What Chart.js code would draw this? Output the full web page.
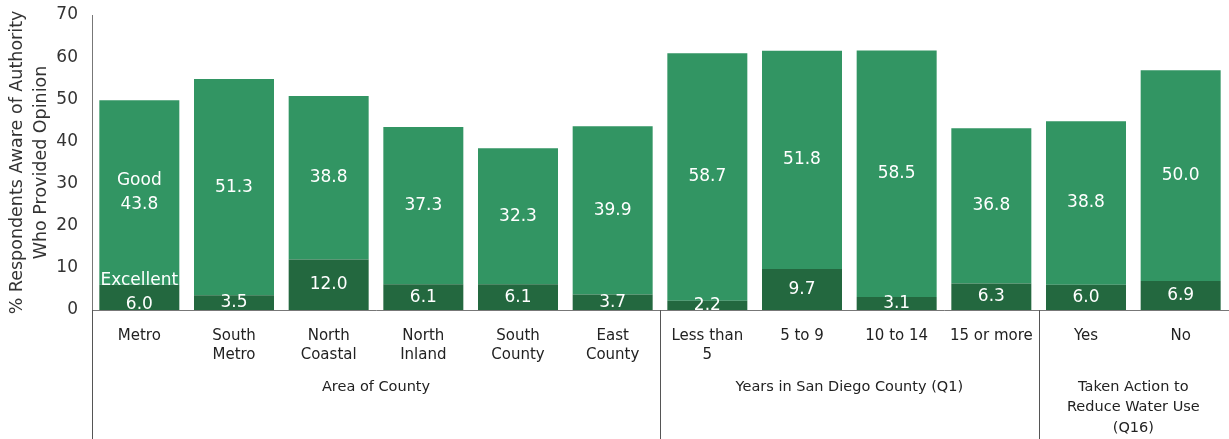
<!DOCTYPE html>
<html>
<head>
<meta charset="utf-8">
<script src="https://cdn.jsdelivr.net/npm/chart.js@4"></script>
<style>
  html, body { margin: 0; padding: 0; background: #fff; }
  #wrap { width: 1229px; height: 439px; }
</style>
</head>
<body>
<div id="wrap"><canvas id="chart"></canvas></div>
<script>
// categories (multi-line tick labels)
const categories = [
    ['Metro'], ['South', 'Metro'], ['North', 'Coastal'], ['North', 'Inland'],
    ['South', 'County'], ['East', 'County'], ['Less than', '5'], ['5 to 9'],
    ['10 to 14'], ['15 or more'], ['Yes'], ['No']
];

// series values
const excellent = [6.0, 3.5, 12.0, 6.1, 6.1, 3.7, 2.2, 9.7, 3.1, 6.3, 6.0, 6.9];
const good = [43.8, 51.3, 38.8, 37.3, 32.3, 39.9, 58.7, 51.8, 58.5, 36.8, 38.8, 50.0];

// groups below the axis: [first index, last index, label lines]
const groups = [
    [0, 5, ['Area of County']],
    [6, 9, ['Years in San Diego County (Q1)']],
    [10, 11, ['Taken Action to', 'Reduce Water Use', '(Q16)']]
];

const yTicks = [0, 10, 20, 30, 40, 50, 60, 70];

const FONT = "'DejaVu Sans', sans-serif";

// white value labels centered in each segment, clipped to the plot
const segmentLabels = {
    id: 'segmentLabels',
    afterDatasetsDraw(chart) {
        const ctx = chart.ctx;
        const area = chart.chartArea;
        ctx.save();
        ctx.beginPath();
        ctx.rect(area.left, area.top, area.right - area.left, area.bottom - area.top);
        ctx.clip();
        ctx.fillStyle = '#fff';
        ctx.font = '17px ' + FONT;
        ctx.textAlign = 'center';
        ctx.textBaseline = 'middle';
        chart.data.datasets.forEach((ds, di) => {
            chart.getDatasetMeta(di).data.forEach((bar, i) => {
                const cy = (bar.y + bar.base) / 2;
                const txt = ds.data[i].toFixed(1);
                if (i === 0) {
                    const off = di === 0 ? -5 : 0;
                    ctx.fillText(ds.label, bar.x, cy - 12 + off);
                    ctx.fillText(txt, bar.x, cy + 12 + off);
                } else {
                    ctx.fillText(txt, bar.x, cy);
                }
            });
        });
        ctx.restore();
    }
};

// group labels and separator lines under the x axis
const groupAxis = {
    id: 'groupAxis',
    afterDraw(chart) {
        const ctx = chart.ctx;
        const x = chart.scales.x;
        const area = chart.chartArea;
        const step = x.getPixelForValue(1) - x.getPixelForValue(0);
        ctx.save();
        ctx.strokeStyle = '#555';
        ctx.lineWidth = 1;
        ctx.fillStyle = '#222';
        ctx.font = '14.5px ' + FONT;
        ctx.textAlign = 'center';
        ctx.textBaseline = 'middle';
        groups.forEach(([a, b, lines], gi) => {
            const left = x.getPixelForValue(a) - step / 2;
            const right = x.getPixelForValue(b) + step / 2;
            if (gi > 0) {
                const px = Math.round(left) + 0.5;
                ctx.beginPath();
                ctx.moveTo(px, area.bottom);
                ctx.lineTo(px, chart.height);
                ctx.stroke();
            }
            lines.forEach((ln, li) => {
                ctx.fillText(ln, (left + right) / 2, 387 + li * 20.5);
            });
        });
        // y axis line continues down past the labels
        const lx = Math.round(area.left) + 0.5;
        ctx.beginPath();
        ctx.moveTo(lx, area.bottom);
        ctx.lineTo(lx, chart.height);
        ctx.stroke();
        ctx.restore();
    }
};

new Chart(document.getElementById('chart'), {
    type: 'bar',
    data: {
        labels: categories,
        datasets: [
            {
                label: 'Excellent',
                data: excellent,
                backgroundColor: '#23683F',
                categoryPercentage: 1,
                barPercentage: 0.845
            },
            {
                label: 'Good',
                data: good,
                backgroundColor: '#329563',
                categoryPercentage: 1,
                barPercentage: 0.845
            }
        ]
    },
    options: {
        responsive: true,
        maintainAspectRatio: false,
        animation: false,
        layout: { padding: { top: 15, right: 1, left: 0, bottom: 0 } },
        plugins: {
            legend: { display: false },
            tooltip: { enabled: false }
        },
        scales: {
            x: {
                stacked: true,
                grid: { display: false, drawTicks: false },
                border: { color: '#777', width: 1 },
                ticks: {
                    color: '#222',
                    font: { family: FONT, size: 15, lineHeight: 1.3 },
                    padding: 16,
                    maxRotation: 0,
                    autoSkip: false
                },
                afterFit(scale) { scale.height = 129; }
            },
            y: {
                stacked: true,
                min: 0,
                max: 70,
                afterBuildTicks(scale) { scale.ticks = yTicks.map(v => ({ value: v })); },
                grid: { display: false, drawTicks: false },
                border: { color: '#777', width: 1 },
                ticks: {
                    color: '#333',
                    font: { family: FONT, size: 17 },
                    padding: 14
                },
                title: {
                    display: true,
                    text: ['% Respondents Aware of Authority', 'Who Provided Opinion'],
                    color: '#333',
                    font: { family: FONT, size: 17.5, lineHeight: 1.35 },
                    padding: { top: 6, bottom: 0 }
                },
                afterFit(scale) {
                    scale.width = 92;
                    scale.paddingTop = 0;
                    scale.paddingBottom = 0;
                }
            }
        }
    },
    plugins: [segmentLabels, groupAxis]
});
</script>
</body>
</html>
